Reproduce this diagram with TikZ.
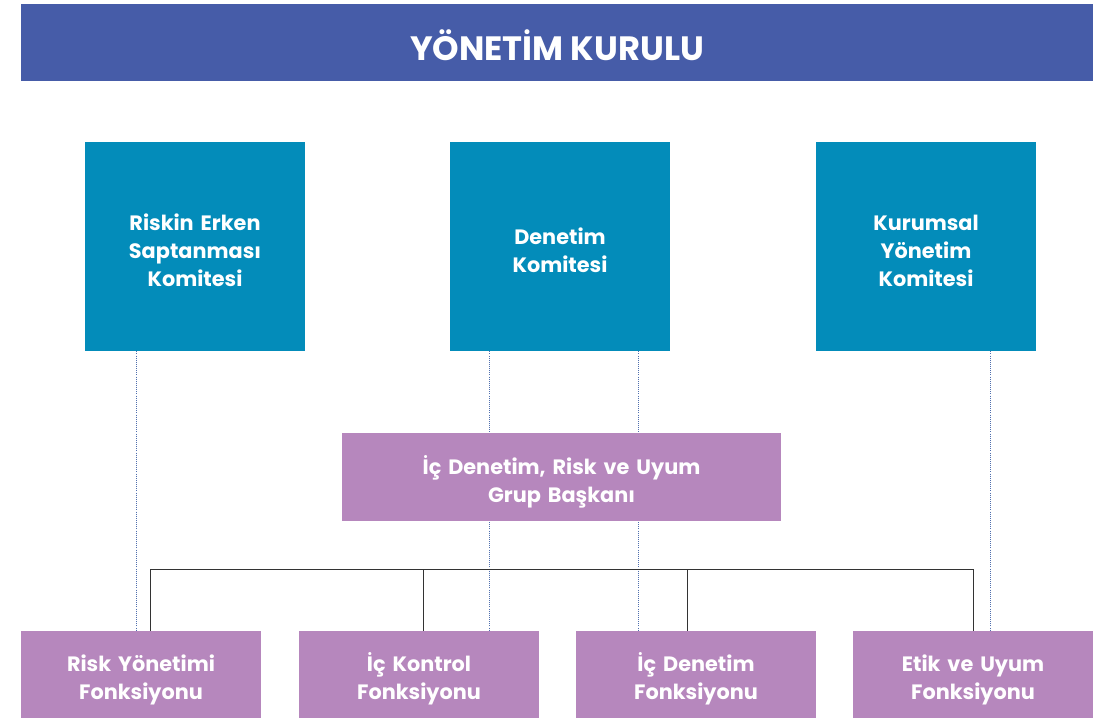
\documentclass[tikz,border=0pt]{standalone}
\usepackage{fontspec}
\setmainfont{Poppins}
\usetikzlibrary{positioning}
\definecolor{ykblue}{HTML}{465CA8}
\definecolor{ktteal}{HTML}{038CBA}
\definecolor{fnpurple}{HTML}{B687BD}
\definecolor{dotblue}{HTML}{4F6FAE}
\definecolor{treegray}{HTML}{333333}

\begin{document}
\begin{tikzpicture}[
  x=0.25mm, y=-0.25mm,
  header/.style={fill=ykblue, text=white, minimum width=268mm, minimum height=19.25mm,
                 inner sep=0pt, text height=26pt,
                 font=\bfseries\fontsize{24}{26}\selectfont},
  komite/.style={fill=ktteal, text=white, align=center, text width=52mm,
                 minimum width=55mm, minimum height=52.25mm, inner sep=0pt,
                 text height=16.7pt, font=\bfseries\fontsize{14.8}{20}\selectfont},
  baskan/.style={fill=fnpurple, text=white, align=center, text width=100mm,
                 minimum width=109.75mm, minimum height=22mm, inner sep=0pt,
                 text height=20.4pt, font=\bfseries\fontsize{14.8}{20}\selectfont},
  fonks/.style={fill=fnpurple, text=white, align=center, text width=57mm,
                minimum width=60mm, minimum height=21.75mm, inner sep=0pt,
                text height=20pt, font=\bfseries\fontsize{14.8}{20}\selectfont},
  dotline/.style={dotblue, densely dotted, line width=0.5pt},
  treeline/.style={treegray, line width=0.7pt},
]
\useasboundingbox (0,0) rectangle (1098,718);

% Board and committees
\node[header] (yk) at (557,42.5) {YÖNETİM KURULU};
\node[komite] (rek) at (195,246.5) {Riskin Erken\\Saptanması\\Komitesi};
\node[komite] (dk)  at (560,246.5) {Denetim\\Komitesi};
\node[komite] (kyk) at (926,246.5) {Kurumsal\\Yönetim\\Komitesi};

% Functions
\node[fonks] (ryf) at (141,674.5) {Risk Yönetimi\\Fonksiyonu};
\node[fonks] (ikf) at (419,674.5) {İç Kontrol\\Fonksiyonu};
\node[fonks] (idf) at (696,674.5) {İç Denetim\\Fonksiyonu};
\node[fonks] (euf) at (973,674.5) {Etik ve Uyum\\Fonksiyonu};

% Dotted reporting lines (drawn before the head box, so they pass behind it)
\draw[dotline] ([xshift=-14.75mm]rek.south) -- ([xshift=-14.75mm]rek.south |- ryf.north);
\draw[dotline] ([xshift=-17.75mm]dk.south) -- ([xshift=-17.75mm]dk.south |- ikf.north);
\draw[dotline] ([xshift=19.5mm]dk.south) -- ([xshift=19.5mm]dk.south |- idf.north);
\draw[dotline] ([xshift=16mm]kyk.south) -- ([xshift=16mm]kyk.south |- euf.north);

\node[baskan] (igb) at (561.5,477) {İç Denetim, Risk ve Uyum\\Grup Başkanı};

% Solid tree over the functions
\draw[treeline] ([xshift=2.25mm]ryf.north) -- ++(0,-61) -| (euf.north);
\draw[treeline] ([xshift=1mm]ikf.north) -- ++(0,-61);
\draw[treeline] ([xshift=-2.25mm]idf.north) -- ++(0,-61);

\end{tikzpicture}
\end{document}
